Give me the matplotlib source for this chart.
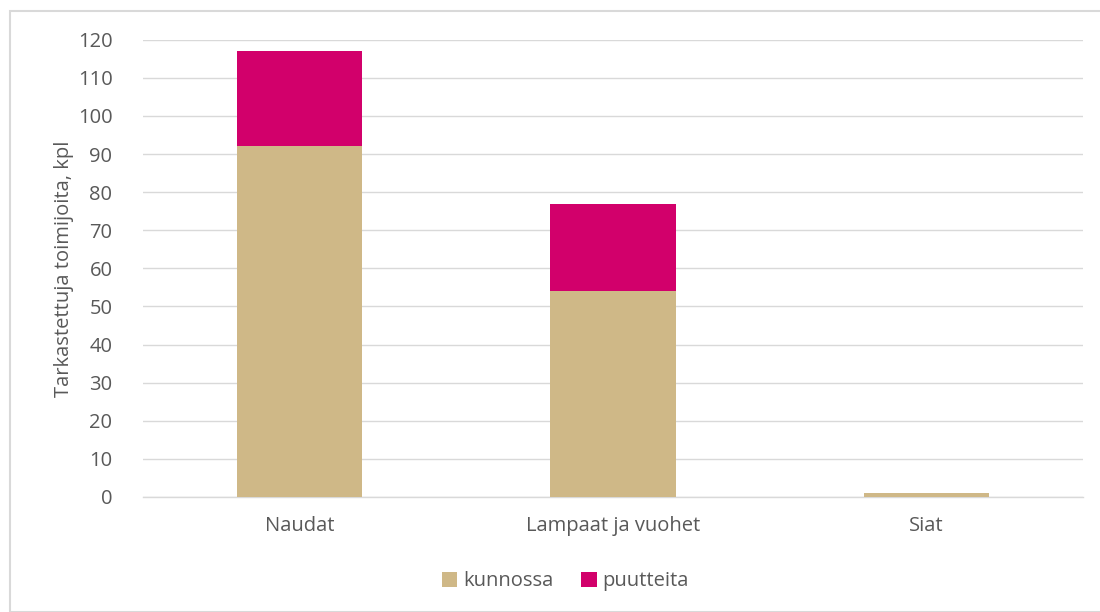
import matplotlib
matplotlib.use("Agg")
import matplotlib.pyplot as plt
from matplotlib.patches import Rectangle
import numpy as np

categories = ["Naudat", "Lampaat ja vuohet", "Siat"]
kunnossa = [92, 54, 1]
puutteita = [25, 23, 0]

tan = "#CFB887"
magenta = "#D2006B"
text_col = "#595959"
grid_col = "#D9D9D9"

plt.rcParams['font.family'] = ['Open Sans', 'DejaVu Sans']

fig = plt.figure(figsize=(11, 6.12), dpi=100)
# outer chart border
fig.patches.append(Rectangle((10 / 1100, 0), 1.0, 1 - 11 / 612, transform=fig.transFigure,
                             fill=False, edgecolor=grid_col, linewidth=1.5))

ax = fig.add_axes([0.13, 0.188, 0.8545, 0.747])
x = np.arange(len(categories))
ax.bar(x, kunnossa, width=0.4, color=tan, label="kunnossa", zorder=3)
ax.bar(x, puutteita, width=0.4, bottom=kunnossa, color=magenta, label="puutteita", zorder=3)

ax.set_xlim(-0.5, 2.5)
ax.set_ylim(0, 120)
ax.set_yticks(range(0, 121, 10))
ax.set_xticks(x)
ax.set_xticklabels(categories)
ax.grid(axis='y', color=grid_col, linewidth=1, zorder=0)
for side in ['top', 'right', 'left']:
    ax.spines[side].set_visible(False)
ax.spines['bottom'].set_color(grid_col)
ax.spines['bottom'].set_linewidth(1)
ax.tick_params(axis='both', length=0, labelsize=14.5, colors=text_col)
ax.tick_params(axis='y', pad=22)
ax.tick_params(axis='x', pad=14)
ax.set_ylabel("Tarkastettuja toimijoita, kpl", fontsize=14.5, color=text_col, labelpad=3)

fig.legend(loc='center', bbox_to_anchor=(0.514, 0.05), ncol=2, frameon=False,
           fontsize=14.5, labelcolor=text_col, handlelength=0.75, handleheight=0.75,
           handletextpad=0.3, columnspacing=1.4)

fig.savefig("out.png", dpi=100)
